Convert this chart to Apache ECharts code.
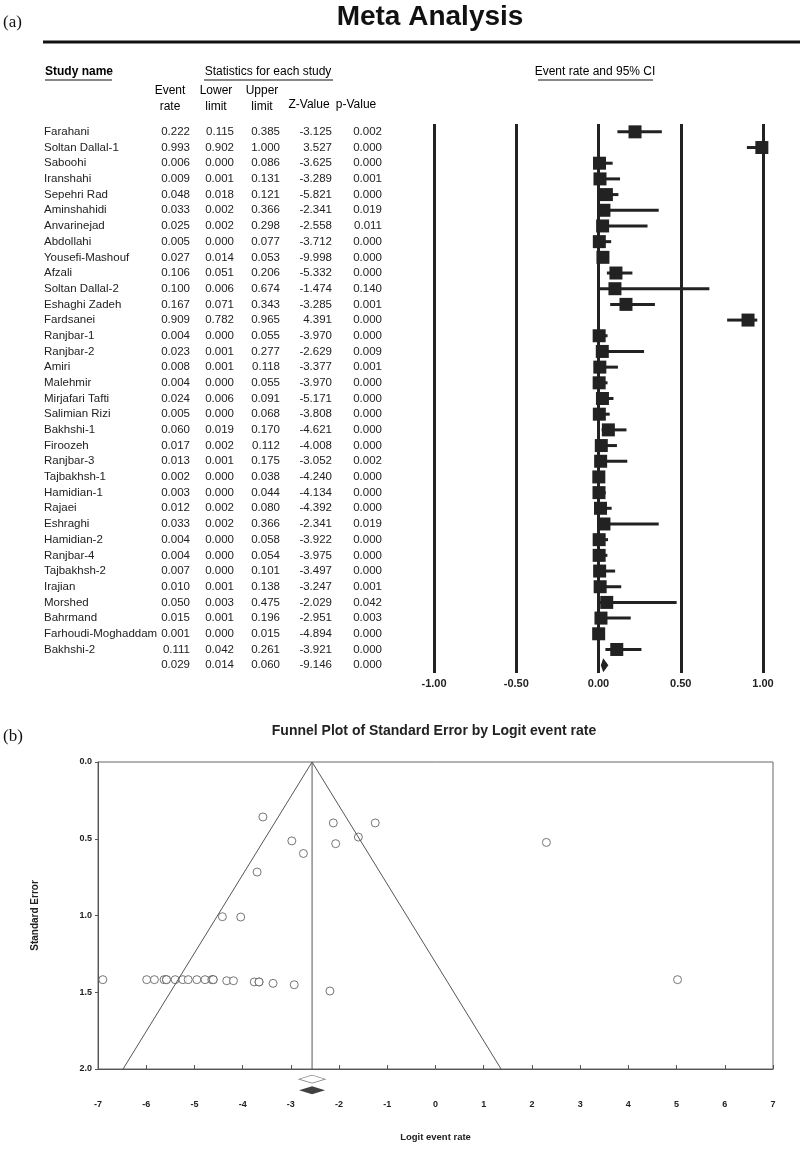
<!DOCTYPE html>
<html><head><meta charset="utf-8">
<script src="https://cdn.jsdelivr.net/npm/echarts@6/dist/echarts.min.js"></script>
<style>html,body{margin:0;padding:0;background:#fff}#c{width:800px;height:1155px}</style>
</head><body><div id="c"></div>
<script>
// ---------- (a) Forest plot data ----------
const studies = ['Farahani','Soltan Dallal-1','Saboohi','Iranshahi','Sepehri Rad','Aminshahidi','Anvarinejad','Abdollahi','Yousefi-Mashouf','Afzali','Soltan Dallal-2','Eshaghi Zadeh','Fardsanei','Ranjbar-1','Ranjbar-2','Amiri','Malehmir','Mirjafari Tafti','Salimian Rizi','Bakhshi-1','Firoozeh','Ranjbar-3','Tajbakhsh-1','Hamidian-1','Rajaei','Eshraghi','Hamidian-2','Ranjbar-4','Tajbakhsh-2','Irajian','Morshed','Bahrmand','Farhoudi-Moghaddam','Bakhshi-2'];
const eventRate = [0.222,0.993,0.006,0.009,0.048,0.033,0.025,0.005,0.027,0.106,0.100,0.167,0.909,0.004,0.023,0.008,0.004,0.024,0.005,0.060,0.017,0.013,0.002,0.003,0.012,0.033,0.004,0.004,0.007,0.010,0.050,0.015,0.001,0.111];
const lowerLimit = [0.115,0.902,0.000,0.001,0.018,0.002,0.002,0.000,0.014,0.051,0.006,0.071,0.782,0.000,0.001,0.001,0.000,0.006,0.000,0.019,0.002,0.001,0.000,0.000,0.002,0.002,0.000,0.000,0.000,0.001,0.003,0.001,0.000,0.042];
const upperLimit = [0.385,1.000,0.086,0.131,0.121,0.366,0.298,0.077,0.053,0.206,0.674,0.343,0.965,0.055,0.277,0.118,0.055,0.091,0.068,0.170,0.112,0.175,0.038,0.044,0.080,0.366,0.058,0.054,0.101,0.138,0.475,0.196,0.015,0.261];
const zValue = [-3.125,3.527,-3.625,-3.289,-5.821,-2.341,-2.558,-3.712,-9.998,-5.332,-1.474,-3.285,4.391,-3.970,-2.629,-3.377,-3.970,-5.171,-3.808,-4.621,-4.008,-3.052,-4.240,-4.134,-4.392,-2.341,-3.922,-3.975,-3.497,-3.247,-2.029,-2.951,-4.894,-3.921];
const pValue = [0.002,0.000,0.000,0.001,0.000,0.019,0.011,0.000,0.000,0.000,0.140,0.001,0.000,0.000,0.009,0.001,0.000,0.000,0.000,0.000,0.000,0.002,0.000,0.000,0.000,0.019,0.000,0.000,0.000,0.001,0.042,0.003,0.000,0.000];
const pooledRate = 0.029, pooledLower = 0.014, pooledUpper = 0.060, pooledZ = -9.146, pooledP = 0.000;
const forestTicks = [-1, -0.5, 0, 0.5, 1];

// ---------- (b) Funnel plot data ----------
const funnelLogit = [-3.58,-2.12,-1.25,-2.98,-1.60,-2.07,2.30,-2.74,-3.70,-4.42,-4.04,
  -6.90,-5.99,-5.83,-5.63,-5.58,-5.40,-5.24,-5.13,-4.95,-4.78,-4.64,-4.61,-4.33,-4.19,-3.76,-3.66,-3.37,-2.93,-2.19,5.02,-5.58,-4.61,-3.66];
const funnelSE = [0.358,0.397,0.397,0.514,0.489,0.532,0.524,0.596,0.717,1.008,1.010,
  1.418,1.418,1.418,1.418,1.418,1.418,1.418,1.418,1.418,1.418,1.418,1.418,1.425,1.425,1.433,1.433,1.442,1.451,1.492,1.418,1.418,1.418,1.433];
const funnelCenter = -2.56;
const funnelXTicks = [-7,7];
const funnelYTicks = [0,2];

// ---------- build ----------
const nRows = studies.length + 1;
const rowKeys = Array.from({length: nRows}, (_, i) => 'r' + i);
const f3 = v => v.toFixed(3);
const colName = studies.concat(['']);
const colRate = eventRate.concat([pooledRate]).map(f3);
const colLow = lowerLimit.concat([pooledLower]).map(f3);
const colUp = upperLimit.concat([pooledUpper]).map(f3);
const colZ = zValue.concat([pooledZ]).map(f3);
const colP = pValue.concat([pooledP]).map(f3);

const forestData = eventRate.map((r, i) => [r, i, lowerLimit[i], upperLimit[i], 0]);
forestData.push([pooledRate, studies.length, pooledLower, pooledUpper, 1]);

const FONT = "'Liberation Sans', Arial, sans-serif";
const INK = '#222';

function tableAxis(data, offset, align) {
  return {
    gridIndex: 0, type: 'category', data: data, inverse: true, position: 'left', offset: offset,
    axisLine: {show: false}, axisTick: {show: false}, splitLine: {show: false},
    axisLabel: {interval: 0, margin: 0, align: align, fontSize: 11.5, color: INK, fontFamily: FONT, padding: [2, 0, 0, 0]}
  };
}

const chart = echarts.init(document.getElementById('c'), null, {renderer: 'canvas'});

const gLeft = 434, gRight = 763;
const option = {
  backgroundColor: '#fff',
  animation: false,
  grid: [
    {left: gLeft, width: gRight - gLeft, top: 124, height: 549},
    {left: 98, width: 675, top: 762, height: 307, show: true, borderColor: '#666', borderWidth: 1}
  ],
  xAxis: [
    {gridIndex: 0, type: 'value', min: forestTicks[0], max: forestTicks[forestTicks.length - 1], interval: 0.5,
      axisLine: {show: false}, axisTick: {show: false},
      splitLine: {show: true, lineStyle: {color: INK, width: 3}},
      axisLabel: {formatter: v => v.toFixed(2), fontSize: 11, fontWeight: 'bold', color: INK, margin: 5, fontFamily: FONT}},
    {gridIndex: 1, type: 'value', min: funnelXTicks[0], max: funnelXTicks[1], interval: 1,
      position: 'bottom',
      axisLine: {onZero: false, lineStyle: {color: '#555', width: 1}},
      axisTick: {inside: true, length: 4, lineStyle: {color: '#555'}},
      splitLine: {show: false},
      axisLabel: {fontSize: 9, fontWeight: 'bold', color: INK, margin: 31, fontFamily: FONT},
      name: 'Logit event rate', nameLocation: 'middle', nameGap: 63,
      nameTextStyle: {fontSize: 9.5, fontWeight: 'bold', color: INK, fontFamily: FONT}}
  ],
  yAxis: [
    {gridIndex: 0, type: 'category', data: rowKeys, inverse: true, show: false},
    tableAxis(colName, gLeft - 44, 'left'),
    tableAxis(colRate, gLeft - 190, 'right'),
    tableAxis(colLow, gLeft - 234, 'right'),
    tableAxis(colUp, gLeft - 280, 'right'),
    tableAxis(colZ, gLeft - 332, 'right'),
    tableAxis(colP, gLeft - 382, 'right'),
    {gridIndex: 1, type: 'value', inverse: true, min: funnelYTicks[0], max: funnelYTicks[1], interval: 0.5,
      position: 'left',
      axisLine: {show: true, onZero: false, lineStyle: {color: '#555', width: 1}},
      axisTick: {show: true, length: 3, lineStyle: {color: '#555'}},
      splitLine: {show: false},
      axisLabel: {formatter: v => v.toFixed(1), fontSize: 9, fontWeight: 'bold', color: INK, margin: 6, fontFamily: FONT},
      name: 'Standard Error', nameLocation: 'middle', nameGap: 58, nameRotate: 90,
      nameTextStyle: {fontSize: 10, fontWeight: 'bold', color: INK, fontFamily: FONT}}
  ],
  series: [
    {
      type: 'custom', xAxisIndex: 0, yAxisIndex: 0, clip: false,
      encode: {x: 0, y: 1},
      data: forestData,
      renderItem: function (params, api) {
        const y = api.value(1);
        const c = api.coord([api.value(0), y]);
        const l = api.coord([api.value(2), y]);
        const u = api.coord([api.value(3), y]);
        if (api.value(4) === 1) {
          return {type: 'polygon', shape: {points: [[l[0], c[1]], [c[0], c[1] - 7], [u[0], c[1]], [c[0], c[1] + 7]]},
            style: {fill: INK}};
        }
        return {type: 'group', children: [
          {type: 'line', shape: {x1: l[0], y1: l[1], x2: u[0], y2: u[1]}, style: {stroke: INK, lineWidth: 3}},
          {type: 'rect', shape: {x: c[0] - 6.5, y: c[1] - 6.5, width: 13, height: 13}, style: {fill: INK}}
        ]};
      }
    },
    {
      type: 'line', xAxisIndex: 1, yAxisIndex: 7, symbol: 'none', silent: true,
      data: [[funnelCenter - 1.96 * funnelYTicks[1], funnelYTicks[1]], [funnelCenter, 0], [funnelCenter + 1.96 * funnelYTicks[1], funnelYTicks[1]]],
      lineStyle: {color: '#555', width: 1}
    },
    {
      type: 'line', xAxisIndex: 1, yAxisIndex: 7, symbol: 'none', silent: true,
      data: [[funnelCenter, 0], [funnelCenter, funnelYTicks[1]]],
      lineStyle: {color: '#555', width: 1}
    },
    {
      type: 'scatter', xAxisIndex: 1, yAxisIndex: 7,
      data: funnelLogit.map((x, i) => [x, funnelSE[i]]),
      symbol: 'circle', symbolSize: 8,
      itemStyle: {color: '#fff', borderColor: '#555', borderWidth: 1}
    },
    {
      type: 'scatter', xAxisIndex: 1, yAxisIndex: 7, clip: false,
      data: [[funnelCenter, funnelYTicks[1] * 1.033]],
      symbol: 'diamond', symbolSize: [26, 8],
      itemStyle: {color: '#fff', borderColor: '#555', borderWidth: 1}
    },
    {
      type: 'scatter', xAxisIndex: 1, yAxisIndex: 7, clip: false,
      data: [[funnelCenter, funnelYTicks[1] * 1.069]],
      symbol: 'diamond', symbolSize: [26, 8],
      itemStyle: {color: '#111'}
    }
  ],
  graphic: [
    {type: 'text', x: 3, y: 14, style: {text: '(a)', font: "17px 'Liberation Serif', 'DejaVu Serif', serif", fill: '#111'}},
    {type: 'text', x: 430, y: 3, style: {text: 'Meta Analysis', align: 'center', font: "bold 28px " + FONT, fill: '#111'}},
    {type: 'line', shape: {x1: 43, y1: 42, x2: 800, y2: 42}, style: {stroke: '#111', lineWidth: 3}},
    {type: 'text', x: 45, y: 66, style: {text: 'Study name', font: "12px " + FONT, fill: '#000', fontWeight: 'bold'}},
    {type: 'line', shape: {x1: 45, y1: 80, x2: 112, y2: 80}, style: {stroke: '#111', lineWidth: 1.2}},
    {type: 'text', x: 268, y: 66, style: {text: 'Statistics for each study', align: 'center', font: "12px " + FONT, fill: '#000'}},
    {type: 'line', shape: {x1: 204, y1: 80, x2: 333, y2: 80}, style: {stroke: '#111', lineWidth: 1.2}},
    {type: 'text', x: 595, y: 66, style: {text: 'Event rate and 95% CI', align: 'center', font: "12px " + FONT, fill: '#000'}},
    {type: 'line', shape: {x1: 538, y1: 80, x2: 653, y2: 80}, style: {stroke: '#111', lineWidth: 1.2}},
    {type: 'text', x: 170, y: 83, style: {text: 'Event\nrate', align: 'center', lineHeight: 16, font: "12px " + FONT, fill: '#000'}},
    {type: 'text', x: 216, y: 83, style: {text: 'Lower\nlimit', align: 'center', lineHeight: 16, font: "12px " + FONT, fill: '#000'}},
    {type: 'text', x: 262, y: 83, style: {text: 'Upper\nlimit', align: 'center', lineHeight: 16, font: "12px " + FONT, fill: '#000'}},
    {type: 'text', x: 309, y: 99, style: {text: 'Z-Value', align: 'center', font: "12px " + FONT, fill: '#000'}},
    {type: 'text', x: 356, y: 99, style: {text: 'p-Value', align: 'center', font: "12px " + FONT, fill: '#000'}},
    {type: 'text', x: 3, y: 728, style: {text: '(b)', font: "17px 'Liberation Serif', 'DejaVu Serif', serif", fill: '#111'}},
    {type: 'text', x: 434, y: 724, style: {text: 'Funnel Plot of Standard Error by Logit event rate', align: 'center', font: "bold 14px " + FONT, fill: '#222'}}
  ]
};
chart.setOption(option);
</script>
</body></html>
